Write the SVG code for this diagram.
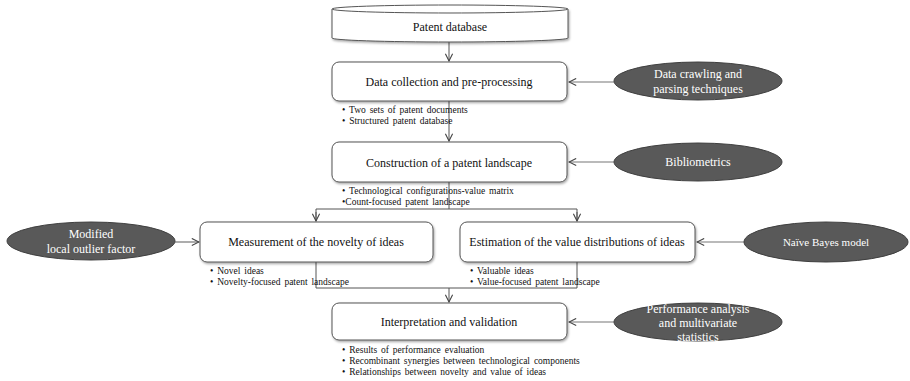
<svg xmlns="http://www.w3.org/2000/svg" width="910" height="381" viewBox="0 0 910 381">
<style>
.box{fill:#fff;stroke:#555;stroke-width:1}
.ell{fill:#595959;stroke:#3f3f3f;stroke-width:1}
.t{font-family:"Liberation Serif","DejaVu Serif",serif;font-size:12px;fill:#111;text-anchor:middle}
.et{font-family:"Liberation Serif","DejaVu Serif",serif;font-size:12px;fill:#fff;text-anchor:middle}
.b{font-family:"Liberation Serif","DejaVu Serif",serif;font-size:9.5px;fill:#111;word-spacing:1.5px}
.c{fill:none;stroke:#555;stroke-width:1}
.cg{fill:none;stroke:#777;stroke-width:1.2}
</style>
<defs>
<marker id="a" viewBox="0 0 10 10" refX="9" refY="5" markerWidth="9" markerHeight="9" markerUnits="userSpaceOnUse" orient="auto">
<polyline points="1,1 9,5 1,9" fill="none" stroke="#444" stroke-width="1.2"/>
</marker>
<filter id="sh" x="-5%" y="-10%" width="110%" height="130%">
<feDropShadow dx="1" dy="1.5" stdDeviation="1" flood-color="#000" flood-opacity="0.35"/>
</filter>
</defs>
<g id="connectors">
<line class="c" x1="449" y1="42" x2="449" y2="61" marker-end="url(#a)"/>
<line class="cg" x1="614" y1="82" x2="569" y2="82" marker-end="url(#a)"/>
<line class="c" x1="449" y1="101" x2="449" y2="141" marker-end="url(#a)"/>
<line class="cg" x1="614" y1="162" x2="569" y2="162" marker-end="url(#a)"/>
<polyline class="c" points="449,182 449,209"/>
<polyline class="c" points="316,221 316,209 577,209 577,221"/>
<line class="c" x1="316" y1="212" x2="316" y2="221" marker-end="url(#a)"/>
<line class="c" x1="577" y1="212" x2="577" y2="221" marker-end="url(#a)"/>
<line class="cg" x1="175" y1="242" x2="199" y2="242" marker-end="url(#a)"/>
<line class="cg" x1="745" y1="242" x2="697" y2="242" marker-end="url(#a)"/>
<polyline class="c" points="316,262 316,288 577,288 577,262"/>
<line class="c" x1="449" y1="288" x2="449" y2="302" marker-end="url(#a)" stroke-width="1.5"/>
<line class="cg" x1="614" y1="322" x2="569" y2="322" marker-end="url(#a)"/>
</g>
<g id="patent-database">
<path class="box" d="M332,9 L332,38 A118,4 0 0 0 568,38 L568,9" filter="url(#sh)"/>
<ellipse class="box" cx="450" cy="9" rx="118" ry="4"/>
<text class="t" x="450" y="31">Patent database</text>
</g>
<g id="data-collection">
<rect class="box" x="332" y="62" width="235" height="39" rx="7" filter="url(#sh)"/>
<text class="t" x="449" y="86">Data collection and pre-processing</text>
<text class="b" x="342" y="113">• Two sets of patent documents</text>
<text class="b" x="342" y="124">• Structured patent database</text>
</g>
<g id="construction">
<rect class="box" x="332" y="142" width="235" height="40" rx="7" filter="url(#sh)"/>
<text class="t" x="449" y="167">Construction of a patent landscape</text>
<text class="b" x="342" y="194">• Technological configurations-value matrix</text>
<text class="b" x="342" y="205">•Count-focused patent landscape</text>
</g>
<g id="measurement">
<rect class="box" x="200" y="222" width="233" height="40" rx="7" filter="url(#sh)"/>
<text class="t" x="316" y="246">Measurement of the novelty of ideas</text>
<text class="b" x="210" y="274">• Novel ideas</text>
<text class="b" x="210" y="285">• Novelty-focused patent landscape</text>
</g>
<g id="estimation">
<rect class="box" x="460" y="222" width="235" height="40" rx="7" filter="url(#sh)"/>
<text class="t" x="577" y="246">Estimation of the value distributions of ideas</text>
<text class="b" x="470" y="274">• Valuable ideas</text>
<text class="b" x="470" y="285">• Value-focused patent landscape</text>
</g>
<g id="interpretation">
<rect class="box" x="332" y="303" width="235" height="37" rx="7" filter="url(#sh)"/>
<text class="t" x="449" y="326">Interpretation and validation</text>
<text class="b" x="342" y="353">• Results of performance evaluation</text>
<text class="b" x="342" y="364">• Recombinant synergies between technological components</text>
<text class="b" x="342" y="375">• Relationships between novelty and value of ideas</text>
</g>
<g id="data-crawling">
<ellipse class="ell" cx="698" cy="81" rx="84" ry="19"/>
<text class="et" x="698" y="78">Data crawling and</text>
<text class="et" x="698" y="93">parsing techniques</text>
</g>
<g id="bibliometrics">
<ellipse class="ell" cx="698" cy="162" rx="84" ry="19"/>
<text class="et" x="698" y="166">Bibliometrics</text>
</g>
<g id="lof">
<ellipse class="ell" cx="91" cy="241" rx="84" ry="19"/>
<text class="et" x="91" y="238">Modified</text>
<text class="et" x="91" y="253">local outlier factor</text>
</g>
<g id="naive-bayes">
<ellipse class="ell" cx="826" cy="242" rx="82" ry="20"/>
<text class="et" x="826" y="246" style="font-size:11px">Naïve Bayes model</text>
</g>
<g id="performance">
<ellipse class="ell" cx="698" cy="322" rx="84" ry="19"/>
<text class="et" x="698" y="313">Performance analysis</text>
<text class="et" x="698" y="327">and multivariate</text>
<text class="et" x="698" y="341">statistics</text>
</g>
</svg>
